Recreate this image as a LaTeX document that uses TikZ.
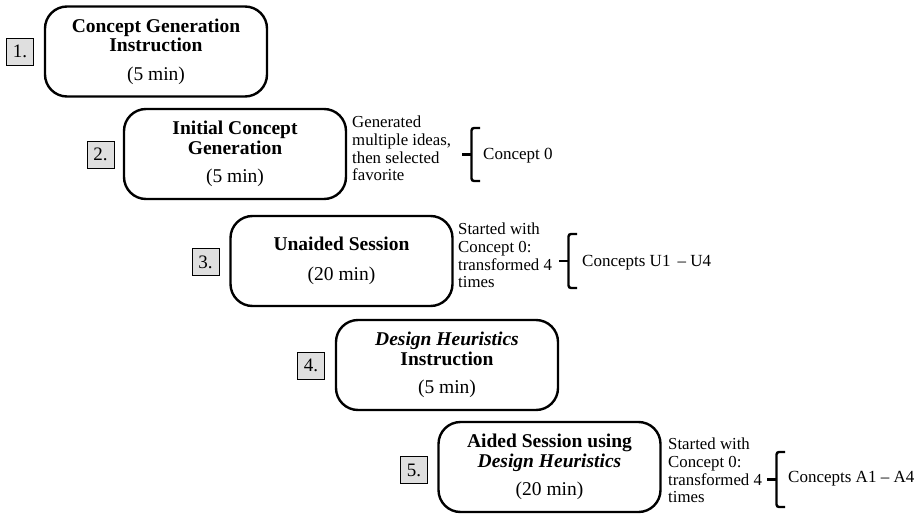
\documentclass[tikz,border=0pt]{standalone}
\usepackage{fontspec}
\setmainfont{Liberation Serif}
\usetikzlibrary{calc}
\begin{document}
\begin{tikzpicture}[x=1pt,y=-1pt,
  stage/.style={draw, line width=2.4pt, rounded corners=22pt, minimum width=222pt,
    minimum height=90pt, align=center, inner sep=0pt,
    font=\fontsize{19.5}{19.5}\selectfont},
  num/.style={draw, line width=0.8pt, fill=gray!25, minimum width=27pt,
    minimum height=27pt, inner sep=0pt, font=\fontsize{19}{19}\selectfont},
  note/.style={anchor=north west, align=left, inner sep=0pt,
    font=\fontsize{16.8}{17.6}\selectfont},
  result/.style={anchor=west, inner sep=0pt, font=\fontsize{17}{17}\selectfont},
  bracket/.style={line width=2.4pt, rounded corners=2.5pt}]
\useasboundingbox (0,0) rectangle (917,516);

% stages
\node[stage] (s1) at (156,51.5) {\textbf{Concept Generation}\\\textbf{Instruction}\\[9pt](5 min)};
\node[stage] (s2) at (235,154) {\textbf{Initial Concept}\\\textbf{Generation}\\[9pt](5 min)};
\node[stage] (s3) at (341.5,261) {\textbf{Unaided Session}\\[11pt](20 min)};
\node[stage] (s4) at (447,365) {\textbf{\textit{Design Heuristics}}\\\textbf{Instruction}\\[9pt](5 min)};
\node[stage] (s5) at (549.5,467) {\textbf{Aided Session using}\\\textbf{\textit{Design Heuristics}}\\[9pt](20 min)};

% step numbers
\node[num] (n1) at (20,51.5) {1.};
\node[num] (n2) at (100.5,154.5) {2.};
\node[num] (n3) at (205.5,262) {3.};
\node[num] (n4) at (311,365.5) {4.};
\node[num] (n5) at (414,470) {5.};

% notes beside the sessions
\node[note] (t2) at (352,116) {Generated\\multiple ideas,\\then selected\\favorite};
\node[note] (t3) at (458,223) {Started with\\Concept 0:\\transformed 4\\times};
\node[note] (t5) at (668,438) {Started with\\Concept 0:\\transformed 4\\times};

% resulting concepts
\node[result] (r2) at (483,156) {Concept 0};
\node[result] (r3) at (582,263) {Concepts U1 \,– U4};
\node[result] (r5) at (788,479) {Concepts A1 – A4};

% square braces: top and bottom ends of each
\coordinate (b2t) at (480,128); \coordinate (b2b) at (480,181);
\coordinate (b3t) at (577,234); \coordinate (b3b) at (577,288);
\coordinate (b5t) at (785,452); \coordinate (b5b) at (785,507);
\foreach \b in {b2,b3,b5}{
  \draw[bracket] (\b t) -- ++(-8.5,0) -- ($(\b b)+(-8.5,0)$) -- (\b b);
  \draw[line width=2.4pt] ($(\b t)!0.5!(\b b)+(-8.5,0)$) -- ++(-9.5,0);
}
\end{tikzpicture}
\end{document}
